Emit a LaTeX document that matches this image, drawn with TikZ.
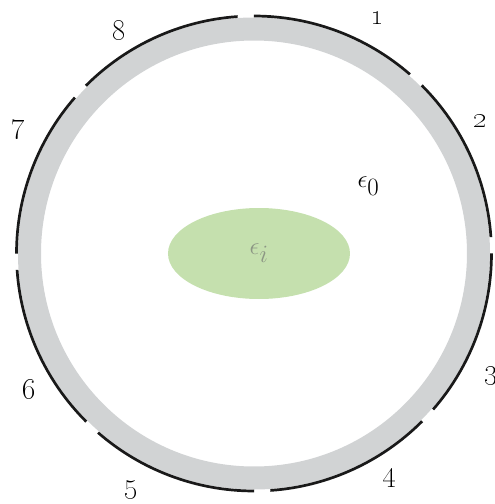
\documentclass[tikz,border=0pt]{standalone}
\usetikzlibrary{shapes.geometric}
\definecolor{ringgray}{RGB}{209,211,212}
\definecolor{blobgreen}{RGB}{197,224,174}
\definecolor{epsgray}{RGB}{140,150,132}
\tikzset{
  numlabel/.style={inner sep=0pt, font=\fontsize{30}{32}\selectfont},
  mathlabel/.style={inner sep=0pt, font=\fontsize{40}{42}\selectfont},
  rimarc/.style={line width=2.7pt, line cap=butt, black!90},
}
\begin{document}
\begin{tikzpicture}[x=1pt,y=1pt]
\useasboundingbox (-254,-250.5) rectangle (241,253.5);
% gray ring
\fill[ringgray, even odd rule] (0,0) circle (236) (0,0) circle (213);
% black segmented rim
\foreach \k in {0,...,7}{
  \pgfmathsetmacro{\sa}{2+45*\k+1.95}
  \pgfmathsetmacro{\ea}{2+45*(\k+1)-1.95}
  \draw[rimarc] (\sa:237.5) arc[start angle=\sa, end angle=\ea, radius=237.5];
}
% inclusion
\node[ellipse, fill=blobgreen, minimum width=182, minimum height=91, inner sep=0pt,
      mathlabel, text=epsgray] (incl) at (5,0) {$\epsilon_i$};
\node[mathlabel] (eps0) at (114.5,67.5) {$\epsilon_0$};
% electrode labels
\node[numlabel] (l1) at (123,235) {\oldstylenums{1}};
\node[numlabel] (l2) at (226,132.5) {\oldstylenums{2}};
\node[numlabel] (l3) at (237,-122.5) {\oldstylenums{3}};
\node[numlabel] (l4) at (135,-224.5) {\oldstylenums{4}};
\node[numlabel] (l5) at (-123,-236.5) {\oldstylenums{5}};
\node[numlabel] (l6) at (-224.5,-136.5) {\oldstylenums{6}};
\node[numlabel] (l7) at (-236,123.5) {\oldstylenums{7}};
\node[numlabel] (l8) at (-134.5,222.5) {\oldstylenums{8}};
\end{tikzpicture}
\end{document}
